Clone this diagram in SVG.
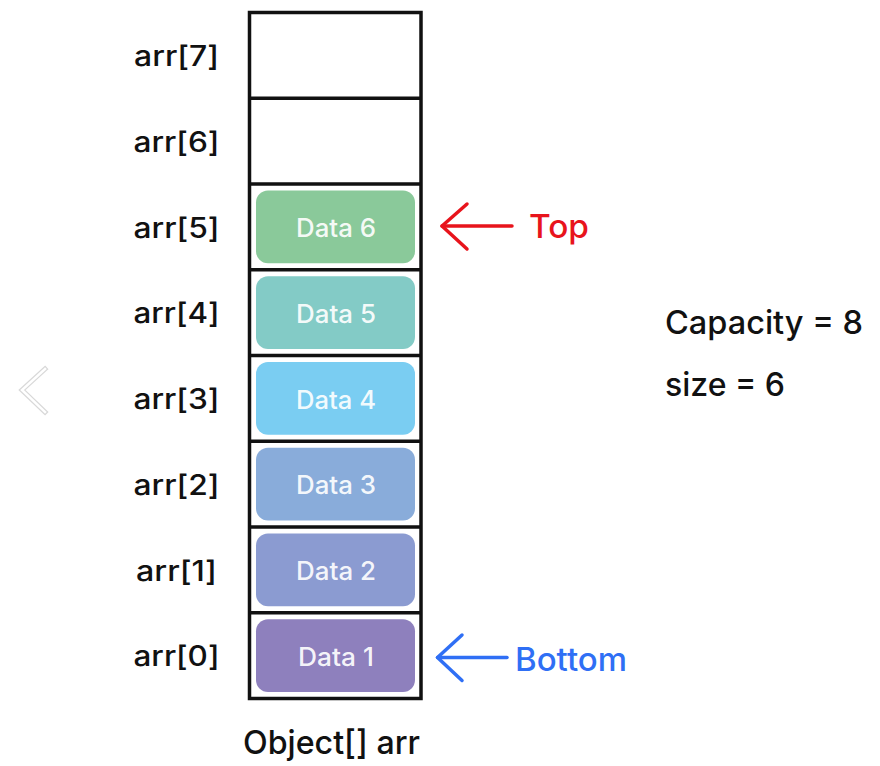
<svg xmlns="http://www.w3.org/2000/svg" width="880" height="766" viewBox="0 0 880 766">
<style>
.lbl{font-family:Inter,"Liberation Sans",sans-serif;font-size:28px;font-weight:500;fill:#111;text-anchor:middle}
.dt{font-family:Inter,"Liberation Sans",sans-serif;font-size:25.5px;font-weight:500;fill:#fff;text-anchor:middle;fill-opacity:0.93}
.cell{fill:#fff;stroke:#111;stroke-width:3.5}
.box{stroke:none}
.big{font-family:Inter,"Liberation Sans",sans-serif;font-size:32px;font-weight:500;fill:#111}
</style>
<rect width="880" height="766" fill="#fff"/>
<g id="chevron">
<polyline points="45,369 22,390 45,412" fill="none" stroke="#d8d8d8" stroke-width="5" stroke-linecap="square"/>
<polyline points="45,369 22,390 45,412" fill="none" stroke="#fff" stroke-width="2.5" stroke-linecap="square"/>
</g>
<g id="array">
<rect class="cell" x="249.5" y="12.5" width="171.5" height="686"/>
<g stroke="#111" stroke-width="3.5">
<line x1="249.5" y1="98.25" x2="421" y2="98.25"/>
<line x1="249.5" y1="184" x2="421" y2="184"/>
<line x1="249.5" y1="269.75" x2="421" y2="269.75"/>
<line x1="249.5" y1="355.5" x2="421" y2="355.5"/>
<line x1="249.5" y1="441.25" x2="421" y2="441.25"/>
<line x1="249.5" y1="527" x2="421" y2="527"/>
<line x1="249.5" y1="612.75" x2="421" y2="612.75"/>
</g>
</g>
<g id="labels">
<text class="lbl" x="176.5" y="66" textLength="85" lengthAdjust="spacingAndGlyphs">arr[7]</text>
<text class="lbl" x="176.5" y="152" textLength="86" lengthAdjust="spacingAndGlyphs">arr[6]</text>
<text class="lbl" x="176.5" y="238" textLength="86" lengthAdjust="spacingAndGlyphs">arr[5]</text>
<text class="lbl" x="176.5" y="323" textLength="86" lengthAdjust="spacingAndGlyphs">arr[4]</text>
<text class="lbl" x="176.5" y="409" textLength="86" lengthAdjust="spacingAndGlyphs">arr[3]</text>
<text class="lbl" x="176.5" y="495" textLength="86" lengthAdjust="spacingAndGlyphs">arr[2]</text>
<text class="lbl" x="176.5" y="581" textLength="81" lengthAdjust="spacingAndGlyphs">arr[1]</text>
<text class="lbl" x="176.5" y="666" textLength="86" lengthAdjust="spacingAndGlyphs">arr[0]</text>
</g>
<g id="data6"><rect class="box" x="256" y="190.5" width="159" height="72.75" rx="12" fill="#8AC99A"/><text class="dt" x="336" y="236.5" textLength="80" lengthAdjust="spacingAndGlyphs">Data 6</text></g>
<g id="data5"><rect class="box" x="256" y="276.25" width="159" height="72.75" rx="12" fill="#83CBC6"/><text class="dt" x="336" y="322.5" textLength="80" lengthAdjust="spacingAndGlyphs">Data 5</text></g>
<g id="data4"><rect class="box" x="256" y="362" width="159" height="72.75" rx="12" fill="#7ACDF2"/><text class="dt" x="336" y="408.5" textLength="80" lengthAdjust="spacingAndGlyphs">Data 4</text></g>
<g id="data3"><rect class="box" x="256" y="447.75" width="159" height="72.75" rx="12" fill="#89ACDA"/><text class="dt" x="336" y="494" textLength="80" lengthAdjust="spacingAndGlyphs">Data 3</text></g>
<g id="data2"><rect class="box" x="256" y="533.5" width="159" height="72.75" rx="12" fill="#8B9BD1"/><text class="dt" x="336" y="580" textLength="80" lengthAdjust="spacingAndGlyphs">Data 2</text></g>
<g id="data1"><rect class="box" x="256" y="619.25" width="159" height="72.75" rx="12" fill="#8E80BD"/><text class="dt" x="336" y="665.5" textLength="76" lengthAdjust="spacingAndGlyphs">Data 1</text></g>
<g id="connectors" fill="none" stroke-width="3.5" stroke-linecap="round" stroke-linejoin="round">
<g stroke="#E8141C"><line x1="442" y1="226" x2="512" y2="226"/><polyline points="467,204 442,226 467,249"/></g>
<g stroke="#2F6FF5"><line x1="437.5" y1="657.5" x2="507" y2="657.5"/><polyline points="462,635 437.5,657.5 462,680.5"/></g>
</g>
<g id="top-label"><text x="529" y="237.5" font-family="Inter,'Liberation Sans',sans-serif" font-size="33" font-weight="500" fill="#E8141C" textLength="60" lengthAdjust="spacingAndGlyphs">Top</text></g>
<g id="bottom-label"><text x="515" y="671" font-family="Inter,'Liberation Sans',sans-serif" font-size="32" font-weight="500" fill="#2F6FF5" textLength="112" lengthAdjust="spacingAndGlyphs">Bottom</text></g>
<g id="info">
<text class="big" x="665" y="333.5" textLength="198" lengthAdjust="spacingAndGlyphs">Capacity = 8</text>
<text class="big" x="665" y="396" textLength="120" lengthAdjust="spacingAndGlyphs">size = 6</text>
</g>
<g id="caption"><text x="243" y="753.5" font-family="Inter,'Liberation Sans',sans-serif" font-size="33" font-weight="500" fill="#111" textLength="177" lengthAdjust="spacingAndGlyphs">Object[] arr</text></g>
</svg>
